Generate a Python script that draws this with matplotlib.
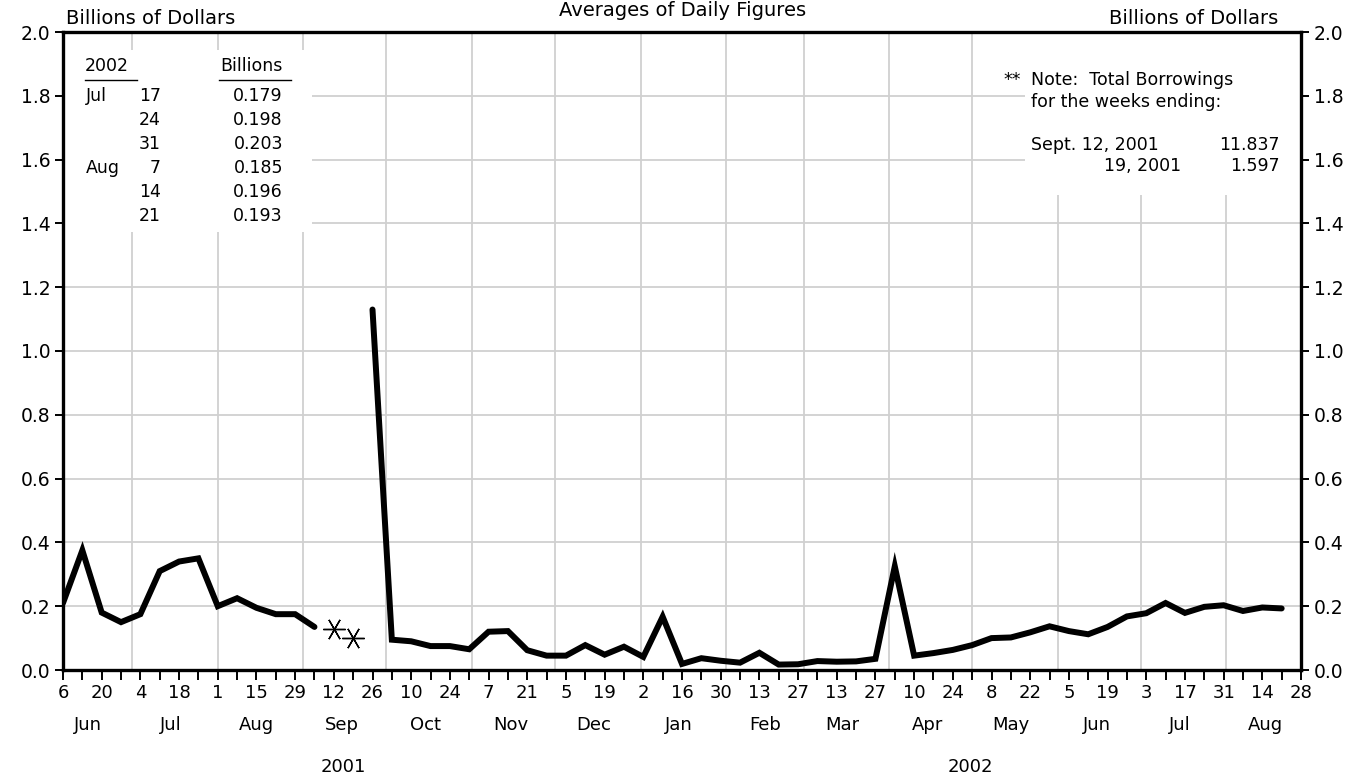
import numpy as np
import pandas as pd
import matplotlib
matplotlib.use("Agg")
import matplotlib.pyplot as plt
from matplotlib.patches import Rectangle

plt.rcParams['font.family'] = ['DejaVu Sans']

# ---------------- data ----------------
week_ending = pd.date_range('2001-06-06', '2002-08-21', freq='7D')
borrowings = [
    0.21, 0.375, 0.18, 0.15, 0.175, 0.31, 0.34, 0.35,          # Jun-Jul 2001
    0.20, 0.225, 0.195, 0.175, 0.175,                           # Aug
    0.135, np.nan, np.nan, 1.13,                                # Sep (12,19 off scale)
    0.095, 0.09, 0.075, 0.075, 0.065,                           # Oct
    0.12, 0.122, 0.062, 0.045,                                  # Nov
    0.045, 0.078, 0.048, 0.073,                                 # Dec
    0.041, 0.167, 0.019, 0.037, 0.029,                          # Jan 2002
    0.023, 0.054, 0.017, 0.018,                                 # Feb
    0.028, 0.026, 0.027, 0.035,                                 # Mar
    0.325, 0.045, 0.053, 0.063,                                 # Apr
    0.078, 0.10, 0.102, 0.118, 0.137,                           # May
    0.122, 0.112, 0.135, 0.168,                                 # Jun
    0.178, 0.21, 0.179, 0.198, 0.203,                           # Jul
    0.185, 0.196, 0.193,                                        # Aug
]
offscale_dates = pd.to_datetime(['2001-09-12', '2001-09-19'])
offscale_marker_levels = [0.128, 0.10]

table_months = ['Jul', '', '', 'Aug', '', '']
table_days = ['17', '24', '31', '7', '14', '21']
table_values = ['0.179', '0.198', '0.203', '0.185', '0.196', '0.193']

y_ticks = [0.0, 0.2, 0.4, 0.6, 0.8, 1.0, 1.2, 1.4, 1.6, 1.8, 2.0]
x_start = pd.Timestamp('2001-06-06')
x_end = pd.Timestamp('2002-08-28')

# ---------------- figure ----------------
W, H = 1358, 780
fig = plt.figure(figsize=(W / 100, H / 100), dpi=100)
L, R, B, T = 63, 1301, 670, 32
ax = fig.add_axes([L / W, 1 - B / H, (R - L) / W, (B - T) / H])

def fx(px):
    return px / W

def fy(py):
    return 1 - py / H

GRID = '#d0d0d0'
for yv in y_ticks[1:-1]:
    ax.axhline(yv, color=GRID, lw=1.3, zorder=0.5)
for m in pd.date_range('2001-07-01', '2002-08-01', freq='MS'):
    ax.axvline(m, color=GRID, lw=1.3, zorder=0.5)

# white boxes behind annotations
ax.add_patch(Rectangle((0, (B - 232) / (B - T)), (312 - L) / (R - L), (232 - 50) / (B - T),
                       transform=ax.transAxes, facecolor='white', edgecolor='none', zorder=1))
ax.add_patch(Rectangle(((1025 - L) / (R - L), (B - 195) / (B - T)), (R - 1025) / (R - L), (195 - T) / (B - T),
                       transform=ax.transAxes, facecolor='white', edgecolor='none', zorder=1))

# main line
ax.plot(week_ending, borrowings, color='black', lw=4.3, solid_capstyle='round',
        solid_joinstyle='miter', zorder=3)
ax.plot(offscale_dates, offscale_marker_levels, linestyle='none', marker=(6, 2, 90),
        markersize=16, markeredgewidth=1.0, color='black', zorder=3)

ax.set_xlim(x_start, x_end)
ax.set_ylim(0, 2.0)

for s in ax.spines.values():
    s.set_linewidth(2.4)

TICKFS = 13.5
ax.set_yticks(y_ticks)
ax.set_yticklabels([f'{v:.1f}' for v in y_ticks])
ax.tick_params(axis='y', which='both', direction='out', length=6, width=1.4,
               labelsize=TICKFS, left=True, right=True, labelleft=True, labelright=True, pad=3)

major = pd.date_range(x_start, x_end, freq='14D')
minor = pd.date_range(x_start, x_end, freq='7D')
ax.set_xticks(major)
ax.set_xticklabels([str(d.day) for d in major])
ax.set_xticks(minor, minor=True)
ax.tick_params(axis='x', which='both', direction='out', length=7, width=1.4,
               labelsize=13, pad=3)

LBLFS = 13
for m in pd.date_range('2001-06-01', '2002-08-01', freq='MS'):
    ax.annotate(m.strftime('%b'), xy=(m + pd.Timedelta(days=14), 0), xycoords=('data', 'axes fraction'),
                xytext=(0, -(725 - B) * 0.72), textcoords='offset points',
                ha='center', va='center', fontsize=LBLFS)

for yr, a, b in [('2001', '2001-06-01', '2001-12-31'), ('2002', '2002-01-01', '2002-08-28')]:
    mid = pd.Timestamp(a) + (pd.Timestamp(b) - pd.Timestamp(a)) / 2
    ax.annotate(yr, xy=(mid, 0), xycoords=('data', 'axes fraction'),
                xytext=(0, -(767 - B) * 0.72), textcoords='offset points',
                ha='center', va='center', fontsize=LBLFS)

HFS = 14
fig.text(0.5025, fy(10), 'Averages of Daily Figures', ha='center', va='center', fontsize=HFS)
fig.text(fx(66), fy(18), 'Billions of Dollars', ha='left', va='center', fontsize=HFS)
fig.text(fx(1278), fy(18), 'Billions of Dollars', ha='right', va='center', fontsize=HFS)

TFS = 12.5
fig.text(fx(85), fy(66), '2002', ha='left', va='center', fontsize=TFS)
fig.text(fx(220), fy(66), 'Billions', ha='left', va='center', fontsize=TFS)
fig.add_artist(plt.Line2D([fx(85), fx(137)], [fy(80), fy(80)], color='black', lw=1))
fig.add_artist(plt.Line2D([fx(219), fx(291)], [fy(80), fy(80)], color='black', lw=1))
for i, (mo, d, v) in enumerate(zip(table_months, table_days, table_values)):
    yy = fy(96 + 24 * i)
    if mo:
        fig.text(fx(86), yy, mo, ha='left', va='center', fontsize=TFS)
    fig.text(fx(161), yy, d, ha='right', va='center', fontsize=TFS)
    fig.text(fx(283), yy, v, ha='right', va='center', fontsize=TFS)

fig.text(fx(1003), fy(80), '**', ha='left', va='center', fontsize=TFS)
fig.text(fx(1031), fy(80), 'Note:  Total Borrowings', ha='left', va='center', fontsize=TFS)
fig.text(fx(1031), fy(102), 'for the weeks ending:', ha='left', va='center', fontsize=TFS)
fig.text(fx(1031), fy(145), 'Sept. 12, 2001', ha='left', va='center', fontsize=TFS)
fig.text(fx(1280), fy(145), '11.837', ha='right', va='center', fontsize=TFS)
fig.text(fx(1181), fy(166), '19, 2001', ha='right', va='center', fontsize=TFS)
fig.text(fx(1280), fy(166), '1.597', ha='right', va='center', fontsize=TFS)

fig.savefig('out.png', dpi=100, facecolor='white')
